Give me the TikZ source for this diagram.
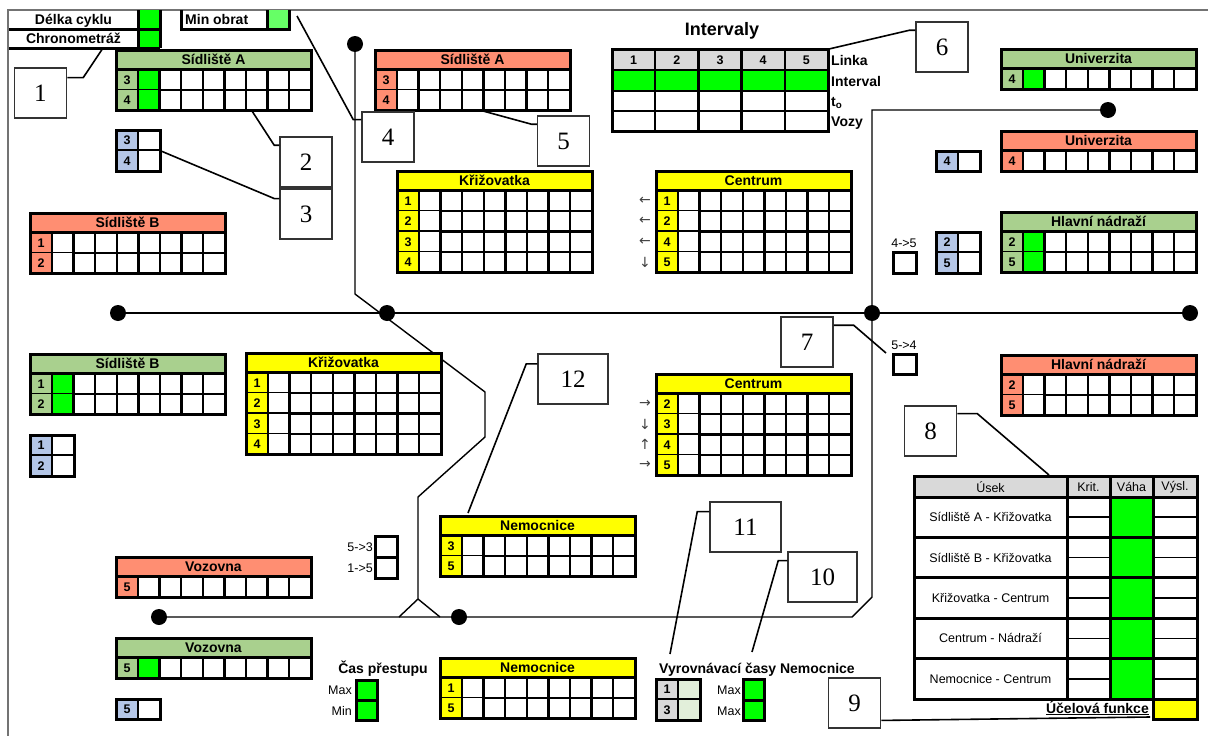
\documentclass[tikz,border=0pt]{standalone}
\usepackage{fontspec}
\setmainfont{Liberation Sans}
\newfontfamily\serifcislo{Liberation Serif}
\newfontfamily\sipky{DejaVu Sans}
\usetikzlibrary{positioning}

\definecolor{hlzel}{RGB}{169,208,142}
\definecolor{hlcerv}{RGB}{255,142,114}
\definecolor{zluta}{RGB}{255,255,0}
\definecolor{zelena}{RGB}{0,255,0}
\definecolor{svzel}{RGB}{102,255,102}
\definecolor{modra}{RGB}{180,198,231}
\definecolor{seda}{RGB}{217,217,217}
\definecolor{sedazel}{RGB}{226,239,218}

\tikzset{
  tlusta/.style={line width=3pt},
  tenka/.style={line width=2.3pt},
  titulek/.style={font=\bfseries\fontsize{14}{15}\selectfont,inner sep=0pt,anchor=base},
  cislo/.style={font=\bfseries\fontsize{12.5}{13}\selectfont,inner sep=0pt,anchor=base},
}

% tabulka zastavky: jmeno, x, y, nazev, barva, radky, prvni sloupec
\newcommand{\tabulka}[7]{%
  \begin{scope}[shift={(#2,#3)}]
    \xdef\pocet{0}
    \foreach \r in {#6} {\pgfmathtruncatemacro\n{\pocet+1}\xdef\pocet{\n}}
    \fill[white] (0,0) rectangle (195,{19.5+\pocet*20.5});
    \fill[#5] (0,0) rectangle (195,19.5);
    \node[titulek] (#1) at (97.5,14.9) {#4};
    \foreach \r [count=\i] in {#6} {
      \fill[#5] (0,{19.5+(\i-1)*20.5}) rectangle (22,{19.5+\i*20.5});
      \fill[#7] (22,{19.5+(\i-1)*20.5}) rectangle (43.6,{19.5+\i*20.5});
      \node[cislo] (#1-\i) at (11,{19.5+(\i-1)*20.5+14.7}) {\r};
      \draw[tenka] (0,{19.5+\i*20.5}) -- (195,{19.5+\i*20.5});
    }
    \foreach \k in {0,...,7}
      \draw[tenka] ({22+\k*21.6},19.5) -- ({22+\k*21.6},{19.5+\pocet*20.5});
    \draw[tlusta] (0,19.5) -- (195,19.5);
    \draw[tlusta] (0,0) rectangle (195,{19.5+\pocet*20.5});
  \end{scope}}

% mala tabulka: jmeno, x, y, radky, barva popisu, barva bunky
\newcommand{\mala}[6]{%
  \begin{scope}[shift={(#2,#3)}]
    \foreach \r [count=\i] in {#4} {
      \fill[#5] (0,{(\i-1)*20.5}) rectangle (22,{\i*20.5});
      \fill[#6] (22,{(\i-1)*20.5}) rectangle (44,{\i*20.5});
      \node[cislo] (#1-\i) at (11,{(\i-1)*20.5+14.7}) {\r};
      \draw[tenka] (0,{\i*20.5}) -- (44,{\i*20.5});
      \xdef\pocet{\i}
    }
    \draw[tenka] (22,0) -- (22,{\pocet*20.5});
    \draw[tlusta] (0,0) rectangle (44,{\pocet*20.5});
  \end{scope}}

\begin{document}
\begin{tikzpicture}[x=1pt,y=-1pt,
    stanice/.style={circle,fill=black,inner sep=0pt,minimum size=16pt},
    trasa/.style={line width=1.4pt},
    popis/.style={draw=black!80,line width=1.5pt,fill=white,minimum width=52pt,
      minimum height=50pt,inner sep=0pt,font=\serifcislo\fontsize{25}{25}\selectfont},
    odkaz/.style={line width=1.6pt},
    maly/.style={font=\fontsize{12.5}{14}\selectfont,inner sep=0pt},
    tucny/.style={font=\bfseries\fontsize{14}{15}\selectfont,inner sep=0pt},
    sipka/.style={font=\sipky\fontsize{14}{14}\selectfont,text=black!75,inner sep=0pt},
  ]
  \useasboundingbox (0,0) rectangle (1208,736);
  \fill[white] (0,0) rectangle (1208,736);
  \draw[black!55,line width=1.2pt] (8,736) -- (8,10) -- (1208,10);

  % trasy
  \node[stanice] (sidlA)  at (355,44)  {};
  \node[stanice] (sidlB)  at (118,313) {};
  \node[stanice] (krizov) at (387,313) {};
  \node[stanice] (centr)  at (872,313) {};
  \node[stanice] (nadr)   at (1190,313) {};
  \node[stanice] (univ)   at (1108,110) {};
  \node[stanice] (vozov)  at (159,617) {};
  \node[stanice] (nemoc)  at (459,617) {};
  \coordinate (z1) at (355,294);
  \coordinate (z2) at (485,392);
  \coordinate (z3) at (485,437);
  \coordinate (z4) at (418,497);
  \coordinate (z5) at (418,599);
  \coordinate (z6) at (399,617);
  \coordinate (z7) at (440,617);
  \coordinate (z8) at (852,617);
  \coordinate (z9) at (872,597);
  \coordinate (z10) at (872,110);
  \draw[trasa] (sidlB.center) -- (nadr.center);
  \draw[trasa] (sidlA.center) -- (z1) -- (z2) -- (z3) -- (z4) -- (z5) -- (z6) (z5) -- (z7);
  \draw[trasa] (vozov.center) -- (z8) -- (z9) -- (z10) -- (univ.center);

  % horni bunky
  \fill[zelena] (138,10) rectangle (160,48);
  \fill[svzel] (267,10) rectangle (289,29);
  \draw[tlusta] (9,29) -- (160,29) (9,48) -- (160,48) (138,10) -- (138,48) (160,10) -- (160,48);
  \draw[tlusta] (181,10) -- (181,29) -- (289,29) -- (289,10) (267,10) -- (267,29);
  \node[tucny,anchor=base] (delka) at (73.5,24.5) {Délka cyklu};
  \node[tucny,anchor=base] (chrono) at (73.5,43.5) {Chronometráž};
  \node[tucny,anchor=base west] (obrat) at (185,24.5) {Min obrat};

  % zastavky
  \tabulka{sAz}{116}{50}{Sídliště A}{hlzel}{3,4}{zelena}
  \tabulka{sAc}{375}{50}{Sídliště A}{hlcerv}{3,4}{white}
  \tabulka{sBc}{30}{213}{Sídliště B}{hlcerv}{1,2}{white}
  \tabulka{sBz}{30}{354}{Sídliště B}{hlzel}{1,2}{zelena}
  \tabulka{kH}{397}{171}{Křižovatka}{zluta}{1,2,3,4}{white}
  \tabulka{kD}{246}{353}{Křižovatka}{zluta}{1,2,3,4}{white}
  \tabulka{cH}{656}{171}{Centrum}{zluta}{1,2,4,5}{white}
  \tabulka{cD}{656}{374}{Centrum}{zluta}{2,3,4,5}{white}
  \tabulka{nH}{440}{516}{Nemocnice}{zluta}{3,5}{white}
  \tabulka{nD}{440}{658}{Nemocnice}{zluta}{1,5}{white}
  \tabulka{vc}{116}{557}{Vozovna}{hlcerv}{5}{white}
  \tabulka{vz}{116}{638}{Vozovna}{hlzel}{5}{zelena}
  \tabulka{uz}{1001}{49}{Univerzita}{hlzel}{4}{zelena}
  \tabulka{uc}{1001}{131}{Univerzita}{hlcerv}{4}{white}
  \tabulka{hz}{1001}{212}{Hlavní nádraží}{hlzel}{2,5}{zelena}
  \tabulka{hc}{1001}{355}{Hlavní nádraží}{hlcerv}{2,5}{white}

  \mala{mA}{116}{130}{3,4}{modra}{white}
  \mala{mB}{30}{435}{1,2}{modra}{white}
  \mala{mV}{116}{699}{5}{modra}{white}
  \mala{mU}{936}{151}{4}{modra}{white}
  \mala{mH}{936}{232}{2,5}{modra}{white}
  \mala{mN}{656}{679}{1,3}{seda}{sedazel}

  % sipky u Centra
  \foreach \s [count=\i] in {←,←,←,↓}
    \node[sipka] (sh\i) at (645,{190.5+(\i-0.5)*20.5}) {\s};
  \foreach \s [count=\i] in {→,↓,↑,→}
    \node[sipka] (sd\i) at (645,{393.5+(\i-0.5)*20.5}) {\s};

  % prestupy
  \node[maly] (p45) at (904,243) {4->5};
  \draw[tlusta] (893,252) rectangle (916,273);
  \node[maly] (p54) at (904,345) {5->4};
  \draw[tlusta] (893,354) rectangle (916,374);
  \node[maly,anchor=east] (p53) at (373,547) {5->3};
  \node[maly,anchor=east] (p15) at (373,568) {1->5};
  \draw[tlusta] (375,536) rectangle (397,578) (375,557) -- (397,557);

  \node[tucny] (cas) at (383,669) {Čas přestupu};
  \node[maly,anchor=east] (cmax) at (352,690) {Max};
  \node[maly,anchor=east] (cmin) at (352,711) {Min};
  \fill[zelena] (356,680) rectangle (377,720);
  \draw[tlusta] (356,680) rectangle (377,720) (356,700) -- (377,700);

  \node[tucny,anchor=west] (vyrov) at (659,670) {Vyrovnávací časy Nemocnice};
  \node[maly,anchor=east] (vmax1) at (741,690) {Max};
  \node[maly,anchor=east] (vmax2) at (741,711) {Max};
  \fill[zelena] (743,679) rectangle (764,720);
  \draw[tlusta] (743,679) rectangle (764,720) (743,700) -- (764,700);

  % intervaly
  \node[font=\bfseries\fontsize{18}{20}\selectfont] (interv) at (722,31) {Intervaly};
  \fill[seda] (612,49) rectangle (828,70);
  \fill[zelena] (612,70) rectangle (828,91);
  \foreach \i in {1,...,5}
    \node[cislo] (lin\i) at ({612+(\i-0.5)*43.2},64.5) {\i};
  \foreach \i in {1,...,4}
    \draw[tenka] ({612+\i*43.2},49) -- ({612+\i*43.2},131);
  \draw[tenka] (612,70) -- (828,70) (612,91) -- (828,91) (612,111) -- (828,111);
  \draw[tlusta] (612,49) rectangle (828,131);
  \node[tucny,anchor=base west] (linka) at (831,65) {Linka};
  \node[tucny,anchor=base west] (interval) at (831,86) {Interval};
  \node[tucny,anchor=base west] (tnula) at (831,106) {t\textsubscript{o}};
  \node[tucny,anchor=base west] (vozy) at (831,126) {Vozy};

  % hodnoceni useku
  \fill[white] (914,476) rectangle (1197,699);
  \fill[seda] (914,476) rectangle (1197,497);
  \fill[zelena] (1110,497) rectangle (1153,699);
  \node[maly] (hUsek) at (990.5,487) {Úsek};
  \node[maly] (hKrit) at (1088.5,487) {Krit.};
  \node[maly] (hVaha) at (1131.5,487) {Váha};
  \node[maly] (hVysl) at (1175,487) {Výsl.};
  \foreach \u [count=\i] in {Sídliště A - Křižovatka,Sídliště B - Křižovatka,
      Křižovatka - Centrum,Centrum - Nádraží,Nemocnice - Centrum} {
    \node[maly] (usek\i) at (990.5,{497+(\i-0.5)*40.4}) {\u};
    \draw[line width=1.6pt] (1067,{497+(\i-0.5)*40.4}) -- (1110,{497+(\i-0.5)*40.4})
      (1153,{497+(\i-0.5)*40.4}) -- (1197,{497+(\i-0.5)*40.4});
    \draw[tlusta] (914,{497+\i*40.4}) -- (1197,{497+\i*40.4});
  }
  \draw[tlusta] (1067,476) -- (1067,699) (1110,476) -- (1110,699) (1153,476) -- (1153,699);
  \draw[tlusta] (914,497) -- (1197,497);
  \draw[tlusta] (914,476) rectangle (1197,699);
  \fill[zluta] (1153,699) rectangle (1197,719);
  \draw[tlusta] (1153,699) rectangle (1197,719);
  \node[tucny,anchor=base east] (ucel) at (1149,713) {\underline{Účelová funkce}};

  % popisky
  \node[popis] (c1) at (40.5,93) {1};
  \node[popis] (c2) at (306,162) {2};
  \node[popis] (c3) at (306,214) {3};
  \node[popis] (c4) at (388,137) {4};
  \node[popis] (c5) at (563.5,141) {5};
  \node[popis] (c6) at (942,47) {6};
  \node[popis] (c7) at (807,342) {7};
  \node[popis] (c8) at (930.5,431) {8};
  \node[popis] (c9) at (854.5,703) {9};
  \node[popis,minimum width=69pt] (c10) at (822.5,577) {10};
  \node[popis,minimum width=71pt] (c11) at (745.5,527) {11};
  \node[popis,minimum width=70pt] (c12) at (573,379) {12};

  \coordinate (k1) at (103,48);
  \coordinate (k2) at (252,111);
  \coordinate (k3) at (161,151);
  \coordinate (k4) at (297,16);
  \coordinate (k5) at (483,111);
  \coordinate (k6) at (829,49);
  \coordinate (k7) at (886,353);
  \coordinate (k8) at (1049,475);
  \coordinate (k9) at (1150,717);
  \coordinate (k10) at (752,652);
  \coordinate (k11) at (670,654);
  \coordinate (k12) at (468,513);
  \draw[odkaz] (c1.30) -- ++(16,0) -- (k1);
  \draw[odkaz] (c2.148) -- ++(-5,0) -- (k2);
  \draw[odkaz] (c3.150) -- ++(-5,0) -- (k3);
  \draw[odkaz] (c4.147) -- ++(-8,0) -- (k4);
  \draw[odkaz] (c5.148) -- ++(-5,0) -- (k5);
  \draw[odkaz] (c6.148) -- ++(-6,0) -- (k6);
  \draw[odkaz] (c7.32) -- ++(20,0) -- (k7);
  \draw[odkaz] (c8.33) -- ++(20,0) -- (k8);
  \draw[odkaz] (c9.-33) -- ++(5,0) -- (k9);
  \draw[odkaz] (c10.155) -- ++(-9,0) -- (k10);
  \draw[odkaz] (c11.157) -- ++(-12,0) -- (k11);
  \draw[odkaz] (c12.157) -- ++(-11,0) -- (k12);
\end{tikzpicture}
\end{document}
